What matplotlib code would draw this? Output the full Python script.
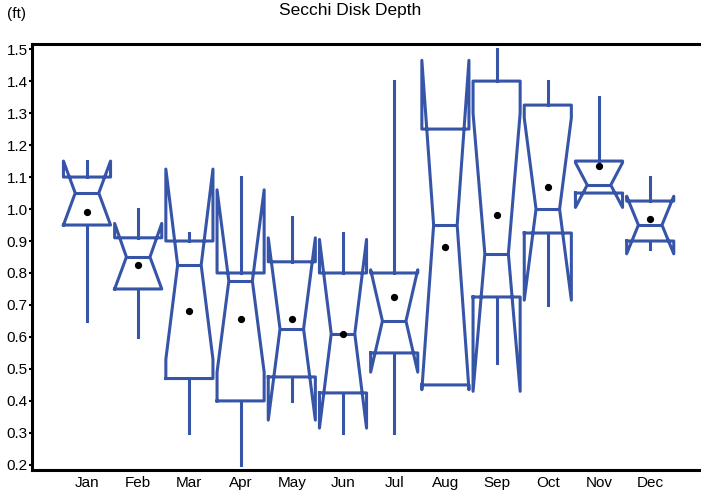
import numpy as np
import matplotlib
matplotlib.use("Agg")
import matplotlib.pyplot as plt

plt.rcParams['font.family'] = ['Liberation Sans', 'DejaVu Sans']

months = ['Jan', 'Feb', 'Mar', 'Apr', 'May', 'Jun',
          'Jul', 'Aug', 'Sep', 'Oct', 'Nov', 'Dec']

# box statistics (ft)
whislo = [0.65, 0.60, 0.30, 0.20, 0.40, 0.30, 0.30, 0.45, 0.52, 0.70, 1.05, 0.875]
q1 = [0.95, 0.75, 0.47, 0.40, 0.475, 0.425, 0.55, 0.45, 0.725, 0.925, 1.05, 0.90]
med = [1.05, 0.85, 0.825, 0.775, 0.625, 0.61, 0.65, 0.95, 0.86, 1.00, 1.075, 0.95]
q3 = [1.10, 0.91, 0.90, 0.80, 0.835, 0.80, 0.80, 1.25, 1.40, 1.325, 1.15, 1.025]
whishi = [1.15, 1.00, 0.925, 1.10, 0.975, 0.925, 1.40, 1.25, 1.50, 1.40, 1.35, 1.10]
cilo = [0.95, 0.75, 0.53, 0.49, 0.34, 0.315, 0.49, 0.435, 0.43, 0.715, 1.005, 0.86]
cihi = [1.15, 0.955, 1.125, 1.06, 0.91, 0.905, 0.81, 1.465, 1.30, 1.285, 1.145, 1.04]
means = [0.99, 0.825, 0.68, 0.655, 0.655, 0.61, 0.725, 0.88, 0.98, 1.07, 1.135, 0.97]

stats = []
for k in range(len(months)):
    stats.append(dict(label=months[k], whislo=whislo[k], q1=q1[k], med=med[k],
                      q3=q3[k], whishi=whishi[k], cilo=cilo[k], cihi=cihi[k],
                      mean=means[k], fliers=[]))

blue = '#3755a8'
lw = 2.2

fig = plt.figure(figsize=(7.01, 4.93), dpi=100)
ax = fig.add_axes([32 / 701, 23 / 493, 669 / 701, 426 / 493])

pos = np.arange(1, len(months) + 1)
ax.bxp(stats, positions=pos, widths=0.92, shownotches=True, showcaps=False,
       showfliers=False, showmeans=True,
       boxprops=dict(color=blue, linewidth=lw),
       whiskerprops=dict(color=blue, linewidth=lw),
       medianprops=dict(color=blue, linewidth=lw),
       meanprops=dict(marker='o', markerfacecolor='black', markeredgecolor='black',
                      markersize=4.2))

ax.set_xlim(1 - 55 / 51.2, 1 + 614 / 51.2)
ax.set_ylim(0.184, 1.516)
ax.set_yticks(np.arange(0.2, 1.51, 0.1))
ax.set_yticklabels([f'{v:.1f}' for v in np.arange(0.2, 1.51, 0.1)])
ax.set_xticks(pos)
ax.set_xticklabels(months)
ax.tick_params(axis='y', length=2, width=1.5, pad=1, labelsize=11)
ax.tick_params(axis='x', length=0, pad=4, labelsize=11)

for s in ['left', 'bottom', 'top']:
    ax.spines[s].set_linewidth(2.2)
ax.spines['right'].set_visible(False)

fig.text(0.5, 1 - 10 / 493, 'Secchi Disk Depth', ha='center', va='center', fontsize=12.5)
fig.text(7 / 701, 1 - 14 / 493, '(ft)', ha='left', va='center', fontsize=11)

fig.savefig('out.png', dpi=100)
